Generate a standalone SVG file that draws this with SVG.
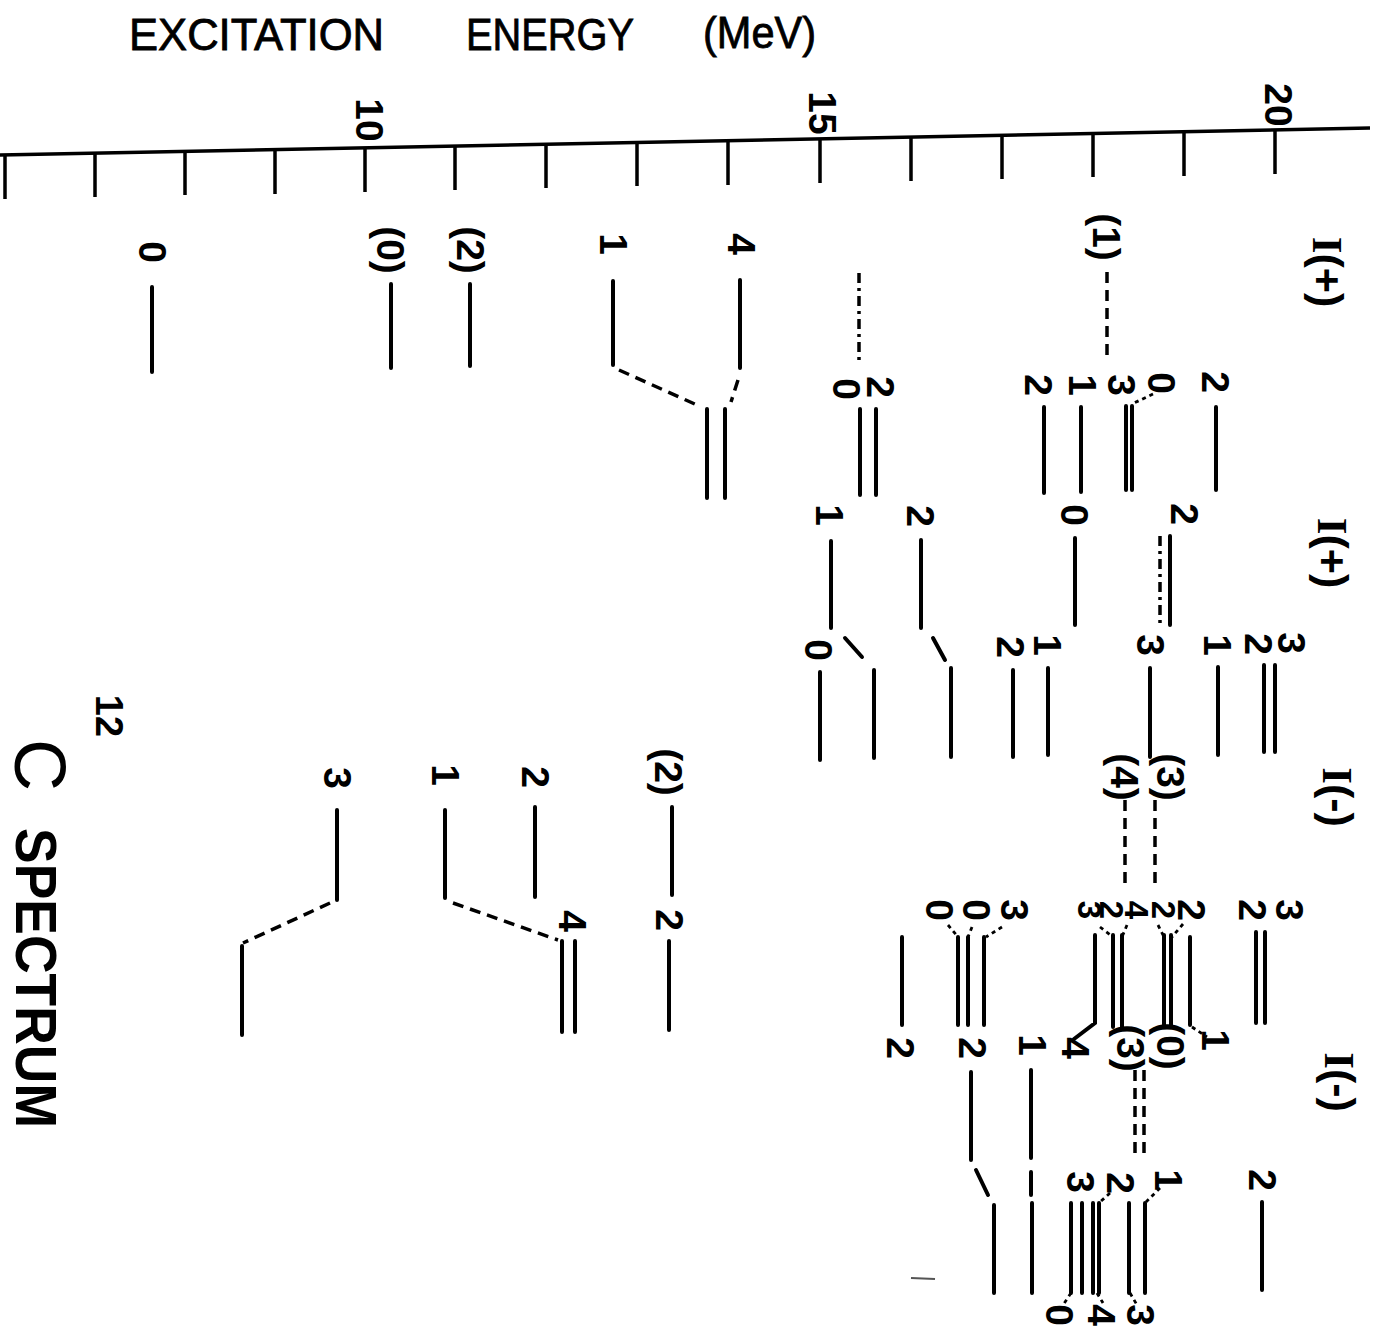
<svg xmlns="http://www.w3.org/2000/svg" width="1384" height="1332" viewBox="0 0 1384 1332">
<style>
.ln{stroke:#000;stroke-width:4;stroke-linecap:round;fill:none}
.ax{stroke:#000;stroke-width:3.5;stroke-linecap:butt;fill:none}
.ds{stroke:#000;stroke-width:3.5;stroke-dasharray:11 7;fill:none}
.dd{stroke:#000;stroke-width:3.5;stroke-dasharray:10 5 3 5;fill:none}
.dt{stroke:#000;stroke-width:2.8;stroke-dasharray:4 4;fill:none}
.t{font-family:"Liberation Sans",Arial,sans-serif;font-weight:bold;font-size:39px;text-anchor:middle;dominant-baseline:central;fill:#000}
.s{font-size:33px}
.iso{font-family:"Liberation Sans",Arial,sans-serif;font-weight:bold;font-size:43px;text-anchor:middle;dominant-baseline:central;fill:#000}
.ser{font-family:"Liberation Serif","Times New Roman",serif}
.ttl{font-family:"Liberation Sans",Arial,sans-serif;font-size:44px;fill:#000;stroke:#000;stroke-width:0.8}
</style>
<rect width="1384" height="1332" fill="#fff"/>

<g id="title">
<text class="ttl" x="129" y="50" textLength="255" lengthAdjust="spacingAndGlyphs">EXCITATION</text>
<text class="ttl" x="466" y="50" textLength="168" lengthAdjust="spacingAndGlyphs">ENERGY</text>
<text class="ttl" x="703" y="48" textLength="113" lengthAdjust="spacingAndGlyphs">(MeV)</text>
</g>

<g id="axis">
<line class="ax" x1="0" y1="155" x2="1370" y2="128"/>
<path class="ax" d="M5 155v44M95 153v44M185 151v44M275 150v44M365 148v44M455 146v44M546 144v44M637 142v44M728 141v44M820 139v44M911 137v44M1002 135v44M1093 133v44M1184 132v44M1275 130v44"/>
<text class="t" style="font-size:39px" transform="translate(369 120) rotate(90)">10</text>
<text class="t" style="font-size:39px" transform="translate(822 113) rotate(90)">15</text>
<text class="t" style="font-size:39px" transform="translate(1278 105) rotate(90)">20</text>
</g>

<g id="spectrum-label">
<text class="t" style="font-size:38px" transform="translate(109 716) rotate(90)">12</text>
<text class="t" style="font-size:72px;font-weight:normal" transform="translate(40 765) rotate(90)">C</text>
<text class="t" style="font-size:58px" transform="translate(36 978) rotate(90)" textLength="300" lengthAdjust="spacingAndGlyphs">SPECTRUM</text>
</g>

<g id="isospin-labels">
<text class="iso" transform="translate(1328 272) rotate(90)"><tspan class="ser">I</tspan>(+)</text>
<text class="iso" transform="translate(1333 553) rotate(90)"><tspan class="ser">I</tspan>(+)</text>
<text class="iso" transform="translate(1338 797) rotate(90)"><tspan class="ser">I</tspan>(-)</text>
<text class="iso" transform="translate(1340 1082) rotate(90)"><tspan class="ser">I</tspan>(-)</text>
</g>

<g id="column-1">
<text class="t" transform="translate(152 252) rotate(90)">0</text>
<text class="t" transform="translate(390 250) rotate(90)">(0)</text>
<text class="t" transform="translate(470 250) rotate(90)">(2)</text>
<text class="t" transform="translate(613 244) rotate(90)">1</text>
<text class="t" transform="translate(741 244) rotate(90)">4</text>
<path class="ln" d="M152 287V372M391 284V368M470 284V366M613 281V365M740 280V368M707 409V498M725 409V498"/>
<text class="t" transform="translate(846 389) rotate(90)">0</text>
<text class="t" transform="translate(880 387) rotate(90)">2</text>
<path class="ln" d="M860 409V495M876 409V495"/>
<text class="t" transform="translate(1106 237) rotate(90)">(1)</text>
<text class="t" transform="translate(1038 385) rotate(90)">2</text>
<text class="t" transform="translate(1082 385) rotate(90)">1</text>
<text class="t" transform="translate(1121 385) rotate(90)">3</text>
<text class="t" transform="translate(1161 383) rotate(90)">0</text>
<text class="t" transform="translate(1215 382) rotate(90)">2</text>
<path class="ln" d="M1044 407V493M1081 407V492M1126 406V490M1132 406V490M1216 407V490"/>
</g>

<g id="column-2">
<text class="t" transform="translate(829 515) rotate(90)">1</text>
<text class="t" transform="translate(920 516) rotate(90)">2</text>
<text class="t" transform="translate(1074 515) rotate(90)">0</text>
<text class="t" transform="translate(1184 514) rotate(90)">2</text>
<path class="ln" d="M831 541V628M921 540V628M1075 538V625M1170 536V625"/>
<text class="t" transform="translate(818 650) rotate(90)">0</text>
<text class="t" transform="translate(1010 647) rotate(90)">2</text>
<text class="t" transform="translate(1047 645) rotate(90)">1</text>
<text class="t" transform="translate(1150 645) rotate(90)">3</text>
<text class="t" transform="translate(1217 645) rotate(90)">1</text>
<text class="t" transform="translate(1258 644) rotate(90)">2</text>
<text class="t" transform="translate(1291 643) rotate(90)">3</text>
<path class="ln" d="M820 672V760M874 670V758M951 668V757M1013 670V757M1048 668V755M1150 668V757M1218 667V755M1264 665V752M1275 665V752"/>
</g>

<g id="column-3">
<text class="t" transform="translate(668 772) rotate(90)">(2)</text>
<text class="t" transform="translate(669 920) rotate(90)">2</text>
<text class="t" transform="translate(535 777) rotate(90)">2</text>
<text class="t" transform="translate(445 775) rotate(90)">1</text>
<text class="t" transform="translate(572 921) rotate(90)">4</text>
<text class="t" transform="translate(337 778) rotate(90)">3</text>
<path class="ln" d="M672 807V895M669 941V1030M535 807V897M445 810V898M562 941V1032M575 941V1032M337 810V900M242 946V1035"/>
<text class="t" transform="translate(1124 777) rotate(90)">(4)</text>
<text class="t" transform="translate(1170 777) rotate(90)">(3)</text>
<text class="t" transform="translate(939 910) rotate(90)">0</text>
<text class="t" transform="translate(976 910) rotate(90)">0</text>
<text class="t" transform="translate(1014 910) rotate(90)">3</text>
<text class="t s" transform="translate(1089 910) rotate(90)">3</text>
<text class="t s" transform="translate(1111 910) rotate(90)">2</text>
<text class="t s" transform="translate(1136 910) rotate(90)">4</text>
<text class="t s" transform="translate(1163 910) rotate(90)">2</text>
<text class="t" transform="translate(1191 910) rotate(90)">2</text>
<text class="t" transform="translate(1252 910) rotate(90)">2</text>
<text class="t" transform="translate(1289 910) rotate(90)">3</text>
<path class="ln" d="M902 937V1025M958 937V1025M968 937V1025M984 937V1025M1095 935V1023L1074 1039M1113 935V1027M1122 935V1027M1164 935V1027M1171 935V1027M1190 937V1025M1256 932V1023M1265 932V1023"/>
<text class="t" transform="translate(900 1048) rotate(90)">2</text>
<text class="t" transform="translate(972 1048) rotate(90)">2</text>
<text class="t" transform="translate(1075 1048) rotate(90)">4</text>
<text class="t" transform="translate(1130 1048) rotate(90)">(3)</text>
<text class="t" transform="translate(1170 1046) rotate(90)">(0)</text>
<text class="t" transform="translate(1215 1040) rotate(90)">1</text>
</g>

<g id="column-4">
<text class="t" transform="translate(1032 1045) rotate(90)">1</text>
<path class="ln" d="M971 1072V1160M994 1205V1293M1031 1070V1158M1031 1172V1195M1032 1203V1293"/>
<text class="t" transform="translate(1080 1182) rotate(90)">3</text>
<text class="t" transform="translate(1120 1183) rotate(90)">2</text>
<text class="t" transform="translate(1168 1180) rotate(90)">1</text>
<text class="t" transform="translate(1262 1180) rotate(90)">2</text>
<path class="ln" d="M1071 1203V1293M1082 1203V1293M1093 1203V1293M1099 1203V1293M1129 1203V1293M1145 1203V1293M1262 1202V1290"/>
<text class="t" transform="translate(1059 1315) rotate(90)">0</text>
<text class="t" transform="translate(1101 1315) rotate(90)">4</text>
<text class="t" transform="translate(1140 1315) rotate(90)">3</text>
<line x1="911" y1="1278" x2="935" y2="1279" stroke="#555" stroke-width="2"/>
</g>

<g id="connectors">
<path class="ds" d="M619 370L697 405M738 380L731 402"/>
<path class="dd" d="M859 273V365"/>
<path class="ds" d="M1107 272V360"/>
<path class="dt" d="M1153 394L1132 404"/>
<path class="dd" d="M1160 536V625"/>
<path class="ln" d="M845 638L862 657M933 638L945 660"/>
<path class="ds" d="M453 903L558 940M330 903L243 943"/>
<path class="ds" d="M1125 800V890M1155 800V890"/>
<path class="dt" d="M948 925L958 937M972 927L968 937M1002 927L986 937M1100 927L1113 937M1127 925L1122 937M1158 925L1164 937M1183 924L1172 937M1192 1027L1207 1037"/>
<path class="ln" d="M976 1170L988 1195"/>
<path class="ds" d="M1135 1070V1158M1144 1070V1158"/>
<path class="dt" d="M1110 1193L1099 1203M1160 1188L1146 1202M1071 1293L1063 1305M1097 1293L1103 1303M1130 1293L1137 1305"/>
</g>
</svg>
